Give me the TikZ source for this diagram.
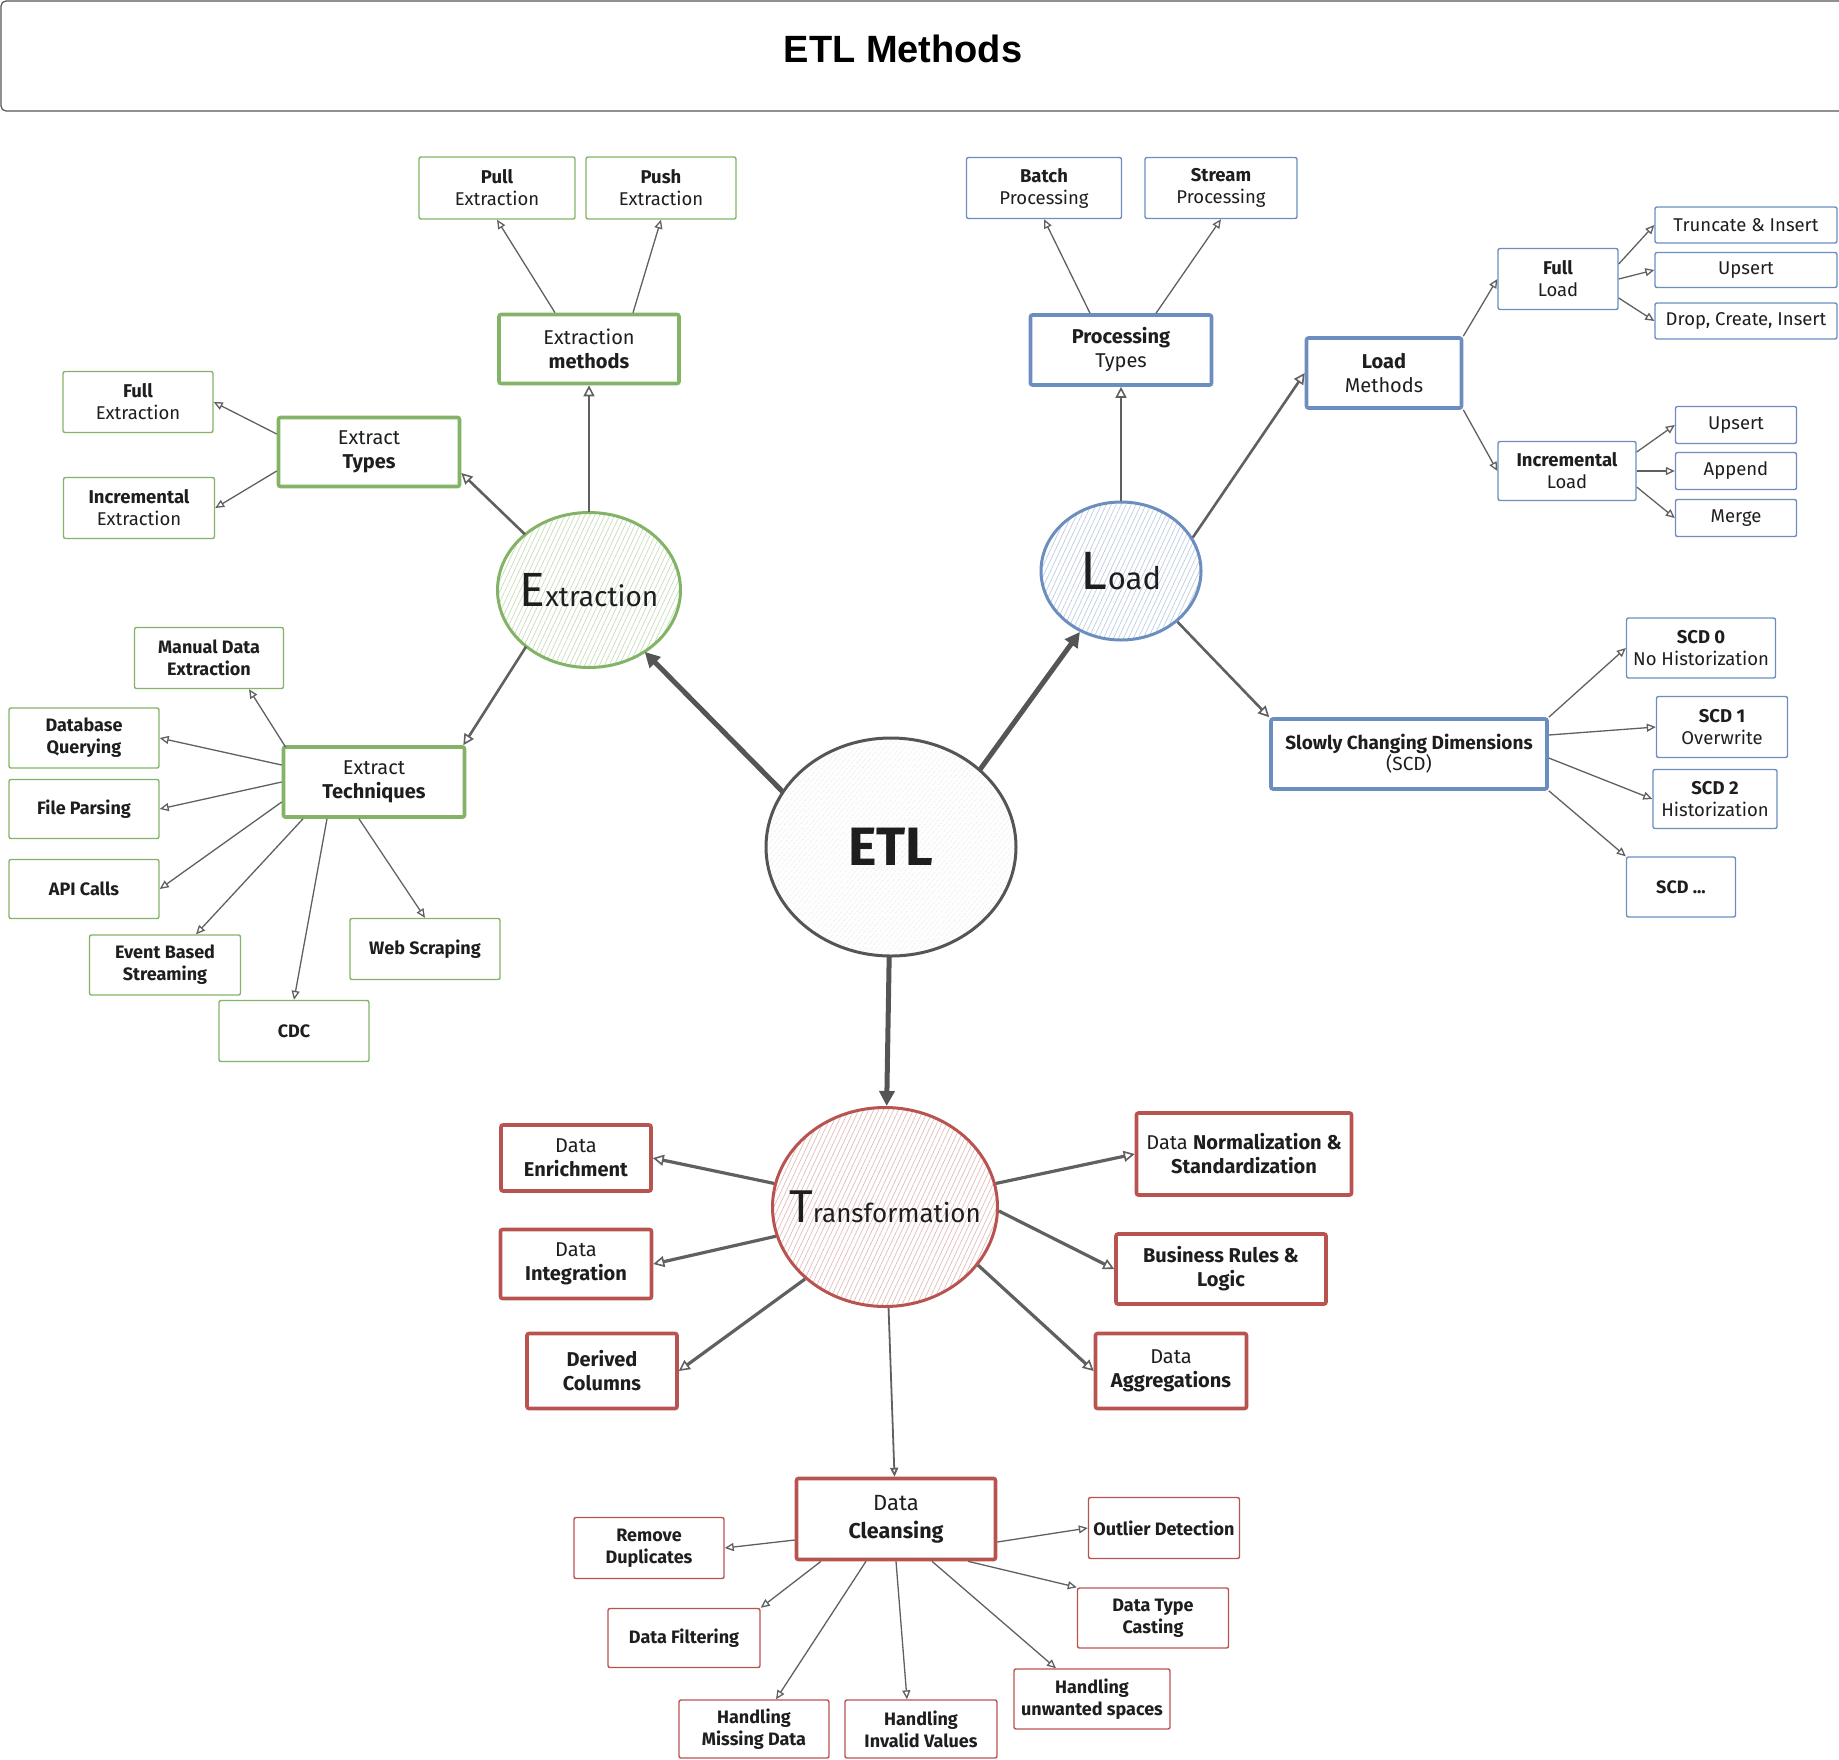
\documentclass[tikz,border=0pt]{standalone}
\usepackage{fontspec}
\setmainfont{Fira Sans}
\newfontfamily\titlefont{Liberation Sans}
\usetikzlibrary{arrows.meta,patterns.meta,shapes.geometric}

\definecolor{grn}{HTML}{82B366}
\definecolor{blu}{HTML}{6C8EBF}
\definecolor{rdd}{HTML}{B85450}
\definecolor{ink}{HTML}{1E1E1E}
\definecolor{wire}{HTML}{606060}
\definecolor{hubgray}{HTML}{555555}

\tikzset{
  box/.style={draw, rectangle, rounded corners=2pt, align=center, inner sep=1pt, text=ink},
  leaf/.style={box, line width=1.4pt, font=\fontsize{18.5}{22}\selectfont},
  leafb/.style={leaf, font=\fontsize{18}{22}\selectfont\bfseries},
  midbox/.style={box, line width=3.6pt, font=\fontsize{20}{24}\selectfont},
  redbox/.style={box, draw=rdd, line width=3.6pt, font=\fontsize{20}{24}\selectfont},
  hub/.style={ellipse, draw, line width=3pt, align=center, inner sep=0pt, text=ink},
  link/.style={draw=wire, line width=1.3pt, -{Triangle[open, length=9pt, width=8pt]}},
  branch/.style={draw=wire, line width=2.6pt, -{Triangle[open, length=11pt, width=11pt, line width=1.6pt]}},
  trunk/.style={draw=hubgray, line width=5pt, -{Triangle[length=15pt, width=15pt]}},
}

% hub caption: large initial, smaller rest; zero width so the ellipse keeps its own size
\newcommand{\hubword}[4]{\makebox[0pt][c]{{\fontsize{#3}{#3}\selectfont #1}{\fontsize{#4}{#4}\selectfont #2}}}

\begin{document}
\begin{tikzpicture}[x=1pt, y=-1pt]
\useasboundingbox (0,0) rectangle (1839,1759);

% ---------- heading ----------
\draw[draw=hubgray, line width=1.2pt, rounded corners=5pt] (1,1) rectangle (1880,111);
\node[font=\titlefont\fontsize{38}{40}\selectfont\bfseries, text=black] (title) at (903,49) {ETL Methods};

% ---------- hubs ----------
\node[hub, draw=hubgray, minimum width=250pt, minimum height=218pt,
      pattern={Lines[angle=50, distance=4pt, line width=0.6pt]}, pattern color=black!12,
      font=\fontsize{54}{54}\selectfont\bfseries] (etl) at (891,847) {\makebox[0pt][c]{ETL}};
\node[hub, draw=grn, minimum width=183pt, minimum height=155pt,
      pattern={Lines[angle=65, distance=4.5pt, line width=0.7pt]}, pattern color=grn!45] (extr) at (589,590) {\hubword{E}{xtraction}{48}{28}};
\node[hub, draw=blu, minimum width=160pt, minimum height=138pt,
      pattern={Lines[angle=65, distance=4.5pt, line width=0.7pt]}, pattern color=blu!45] (load) at (1121,571) {\hubword{L}{oad}{54}{31}};
\node[hub, draw=rdd, minimum width=225pt, minimum height=199pt,
      pattern={Lines[angle=65, distance=4.5pt, line width=0.7pt]}, pattern color=rdd!40] (trans) at (885,1207) {\hubword{T}{ransformation}{46}{26}};

% ---------- extraction side ----------
\begin{scope}[every node/.append style={draw=grn}]
\node[midbox, minimum width=180pt, minimum height=69pt] (extm) at (589,349) {Extraction\\\textbf{methods}};
\node[midbox, minimum width=181pt, minimum height=69pt] (types) at (369,452) {Extract\\\textbf{Types}};
\node[midbox, minimum width=181pt, minimum height=70pt] (tech) at (374,782) {Extract\\\textbf{Techniques}};

\node[leaf, minimum width=156pt, minimum height=62pt] (pull) at (497,188) {\textbf{Pull}\\Extraction};
\node[leaf, minimum width=150pt, minimum height=62pt] (push) at (661,188) {\textbf{Push}\\Extraction};
\node[leaf, minimum width=150pt, minimum height=61pt] (fullx) at (138,402) {\textbf{Full}\\Extraction};
\node[leaf, minimum width=151pt, minimum height=61pt] (incx) at (139,508) {\textbf{Incremental}\\Extraction};

\node[leafb, minimum width=149pt, minimum height=61pt] (manual) at (209,658) {Manual Data\\Extraction};
\node[leafb, minimum width=150pt, minimum height=60pt] (db) at (84,738) {Database\\Querying};
\node[leafb, minimum width=150pt, minimum height=59pt] (file) at (84,809) {File Parsing};
\node[leafb, minimum width=150pt, minimum height=59pt] (api) at (84,889) {API Calls};
\node[leafb, minimum width=151pt, minimum height=60pt] (event) at (165,965) {Event Based\\Streaming};
\node[leafb, minimum width=150pt, minimum height=61pt] (cdc) at (294,1031) {CDC};
\node[leafb, minimum width=150pt, minimum height=61pt] (web) at (425,949) {Web Scraping};
\end{scope}

% ---------- load side ----------
\begin{scope}[every node/.append style={draw=blu}]
\node[midbox, minimum width=181pt, minimum height=70pt] (proc) at (1121,350) {\textbf{Processing}\\Types};
\node[midbox, minimum width=155pt, minimum height=70pt] (lm) at (1384,373) {\textbf{Load}\\Methods};
\node[midbox, minimum width=276pt, minimum height=70pt, font=\fontsize{19}{21}\selectfont] (scd) at (1409,754) {\textbf{Slowly Changing Dimensions}\\(SCD)};

\node[leaf, minimum width=155pt, minimum height=61pt] (batch) at (1044,188) {\textbf{Batch}\\Processing};
\node[leaf, minimum width=152pt, minimum height=61pt] (stream) at (1221,188) {\textbf{Stream}\\Processing};

\node[leaf, minimum width=120pt, minimum height=61pt] (fl) at (1558,279) {\textbf{Full}\\Load};
\node[leaf, minimum width=182pt, minimum height=36pt] (tr) at (1746,225) {Truncate \& Insert};
\node[leaf, minimum width=182pt, minimum height=35pt] (up1) at (1746,270) {Upsert};
\node[leaf, minimum width=182pt, minimum height=36pt] (drop) at (1746,321) {Drop, Create, Insert};

\node[leaf, minimum width=138pt, minimum height=59pt] (il) at (1567,471) {\textbf{Incremental}\\Load};
\node[leaf, minimum width=121pt, minimum height=37pt] (up2) at (1736,425) {Upsert};
\node[leaf, minimum width=121pt, minimum height=37pt] (app) at (1736,471) {Append};
\node[leaf, minimum width=121pt, minimum height=37pt] (merge) at (1736,518) {Merge};

\node[leaf, minimum width=149pt, minimum height=60pt] (s0) at (1701,648) {\textbf{SCD 0}\\No Historization};
\node[leaf, minimum width=131pt, minimum height=61pt] (s1) at (1722,727) {\textbf{SCD 1}\\Overwrite};
\node[leaf, minimum width=124pt, minimum height=59pt] (s2) at (1715,799) {\textbf{SCD 2}\\Historization};
\node[leafb, minimum width=109pt, minimum height=60pt] (s3) at (1681,887) {SCD ...};
\end{scope}

% ---------- transformation side ----------
\node[redbox, minimum width=150pt, minimum height=66pt] (enr) at (576,1158) {Data\\\textbf{Enrichment}};
\node[redbox, minimum width=151pt, minimum height=69pt] (int) at (576,1264) {Data\\\textbf{Integration}};
\node[redbox, minimum width=150pt, minimum height=75pt] (der) at (602,1371) {\textbf{Derived}\\\textbf{Columns}};
\node[redbox, minimum width=215pt, minimum height=82pt] (norm) at (1244,1154) {Data \textbf{Normalization \&}\\\textbf{Standardization}};
\node[redbox, minimum width=210pt, minimum height=70pt] (bus) at (1221,1269) {\textbf{Business Rules \&}\\\textbf{Logic}};
\node[redbox, minimum width=151pt, minimum height=75pt] (agg) at (1171,1371) {Data\\\textbf{Aggregations}};
\node[redbox, minimum width=199pt, minimum height=81pt, font=\fontsize{22}{28}\selectfont] (cle) at (896,1519) {Data\\{\fontsize{21.5}{28}\selectfont\bfseries Cleansing}};

\begin{scope}[every node/.append style={draw=rdd}]
\node[leafb, minimum width=150pt, minimum height=61pt] (rd) at (649,1548) {Remove\\Duplicates};
\node[leafb, minimum width=152pt, minimum height=59pt] (filt) at (684,1638) {Data Filtering};
\node[leafb, minimum width=150pt, minimum height=58pt] (miss) at (754,1729) {Handling\\Missing Data};
\node[leafb, minimum width=152pt, minimum height=58pt] (inv) at (921,1729) {Handling\\Invalid Values};
\node[leafb, minimum width=156pt, minimum height=60pt] (unw) at (1092,1699) {Handling\\unwanted spaces};
\node[leafb, minimum width=151pt, minimum height=60pt] (cast) at (1153,1618) {Data Type\\Casting};
\node[leafb, minimum width=151pt, minimum height=61pt] (out) at (1164,1528) {Outlier Detection};
\end{scope}

% ---------- connectors: ETL to its three stages ----------
\draw[trunk] (etl.153) -- (extr.312);
\draw[trunk] (etl.41) -- (load.236);
\draw[trunk] (etl) -- (trans);

% ---------- extraction ----------
\draw[branch] (extr) -- (extm);
\draw[branch] (extr.139) -- ([yshift=-21pt]types.east);
\draw[branch] (extr.222) -- ([xshift=-3pt]tech.north east);

\draw[link] ([xshift=-34pt]extm.north) -- (pull.south);
\draw[link] ([xshift=44pt]extm.north) -- (push.south);
\draw[link] ([yshift=18pt]types.west) -- (fullx.east);
\draw[link] ([yshift=-19pt]types.west) -- (incx.east);

\draw[link] ([xshift=4pt,yshift=-2pt]tech.north west) -- ([xshift=40pt]manual.south);
\draw[link] ([yshift=17pt]tech.west) -- (db.east);
\draw[link] (tech.west) -- (file.east);
\draw[link] ([yshift=-20pt]tech.west) -- (api.east);
\draw[link] ([xshift=-71pt]tech.south) -- ([xshift=31pt]event.north);
\draw[link] ([xshift=-47pt]tech.south) -- (cdc.north);
\draw[link] ([xshift=-15pt]tech.south) -- (web.north);

% ---------- load ----------
\draw[branch] (load) -- (proc);
\draw[branch] (load.25) -- (lm.west);
\draw[branch] (load.318) -- (scd.north west);

\draw[link] ([xshift=-31pt]proc.north) -- (batch.south);
\draw[link] ([xshift=35pt]proc.north) -- (stream.south);
\draw[link] (lm.north east) -- (fl.west);
\draw[link] (lm.south east) -- (il.west);
\draw[link] ([yshift=15pt]fl.east) -- (tr.west);
\draw[link] (fl.east) -- (up1.west);
\draw[link] ([yshift=-19pt]fl.east) -- (drop.west);
\draw[link] ([yshift=19pt]il.east) -- (up2.west);
\draw[link] (il.east) -- (app.west);
\draw[link] ([yshift=-16pt]il.east) -- (merge.west);

\draw[link] (scd.north east) -- (s0.west);
\draw[link] ([yshift=19pt]scd.east) -- (s1.west);
\draw[link] ([yshift=-4pt]scd.east) -- (s2.west);
\draw[link] (scd.south east) -- (s3.north west);

% ---------- transformation ----------
\draw[branch, line width=3.2pt] (trans.168) -- (enr.east);
\draw[branch, line width=3.2pt] (trans.195) -- (int.east);
\draw[branch, line width=3.2pt] (trans.222) -- (der.east);
\draw[branch, line width=3.2pt] (trans.12) -- (norm.west);
\draw[branch, line width=3.2pt] (trans.358) -- (bus.west);
\draw[branch, line width=3.2pt] (trans.328) -- (agg.west);
\draw[link, line width=1.8pt] (trans) -- (cle);

\draw[link] ([yshift=-21pt]cle.west) -- (rd.east);
\draw[link] ([xshift=-75pt]cle.south) -- (filt.north east);
\draw[link] ([xshift=-30pt]cle.south) -- ([xshift=22pt]miss.north);
\draw[link] (cle.south) -- ([xshift=-14pt]inv.north);
\draw[link] ([xshift=36pt]cle.south) -- ([xshift=-36pt]unw.north);
\draw[link] ([xshift=72pt]cle.south) -- (cast.north west);
\draw[link] ([yshift=-23pt]cle.east) -- (out.west);
\end{tikzpicture}
\end{document}
